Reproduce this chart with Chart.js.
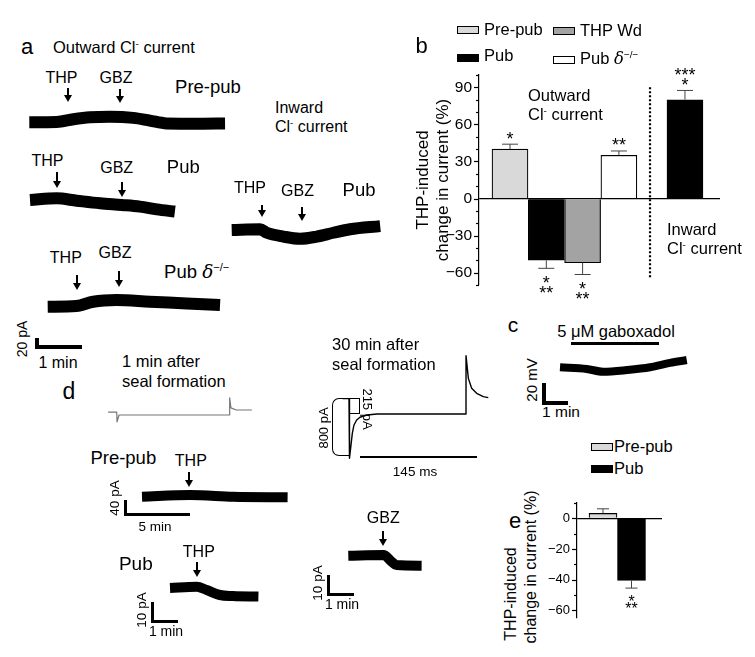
<!DOCTYPE html>
<html>
<head>
<meta charset="utf-8">
<script src="https://cdn.jsdelivr.net/npm/chart.js@4.4.1/dist/chart.umd.min.js"></script>
<style>
body{margin:0;width:755px;height:657px;background:#fff;position:relative;overflow:hidden;font-family:"Liberation Sans",Arial,sans-serif;color:#000}
.t{position:absolute;white-space:nowrap;line-height:1}
.sup{font-size:.6em;position:relative;top:-.6em}
.dl{font-family:"DejaVu Serif",serif;font-style:italic}
canvas{position:absolute}
.box{position:absolute;border:1px solid #000;box-sizing:border-box}
.sb{position:absolute;box-sizing:border-box;border-left:solid #000;border-bottom:solid #000}
</style>
</head>
<body>
<canvas id="cb" width="320" height="250" style="left:413px;top:55px"></canvas>
<canvas id="ce" width="132" height="152" style="left:540px;top:488px"></canvas>
<script>
// panel b: THP-induced change in current (%)
const bCats = ['Pre-pub', 'Pub', 'THP Wd', 'Pub δ-/-', 'Pub (inward)'];
const bVals = [40, -50, -52, 35, 80];
const bErrs = [4, 6.5, 9.5, 3.5, 7.5];
const bStars = [['*'], ['*', '**'], ['*', '**'], ['**'], ['*', '***']];

// panel e
const eCats = ['Pre-pub', 'Pub'];
const eVals = [3.2, -40.5];
const eErrs = [3, 5];
const eStars = [[], ['*', '**']];

// traces, time in min, current in pA (panel c in mV)
const aPreT = [0, 0.61, 0.98, 1.35, 1.79, 2.31, 2.68, 3.05, 3.79, 4.35];
const aPreI = [0, 0.5, 5.5, 9, 10, 8, 3, -2, -2.5, -2];
const aPubT = [0, 0.59, 1.04, 1.56, 2.04, 2.44, 2.82, 3.22];
const aPubI = [0, 3, -1.3, -6, -9, -12, -17, -21];
const aKoT = [0, 0.64, 1.01, 1.53, 2.27, 3.09, 3.83];
const aKoI = [0, 1.3, 9, 12, 9, 6, 3];
const aInT = [0, 0.63, 0.78, 1.15, 1.52, 1.89, 2.26, 2.63, 3.3];
const aInI = [0, 1.3, -5, -12, -16, -12, -5, 1.3, 7];
const cT = [0, 1.07, 1.72, 2.67, 3.6, 4.4, 5.07];
const cV = [0, -1.5, -4, -2.5, 0, 4, 6.6];
const dPreT = [0, 3.7, 7.03, 11.2];
const dPreI = [0, 4.5, 0, -1.6];
const dPubT = [0, 1.03, 1.41, 1.92, 2.42, 3.4];
const dPubI = [0, 0.6, -1, -3.5, -4, -4.3];
const dGbzT = [0, 1.35, 1.67, 1.86, 2.82];
const dGbzI = [0, 0.35, -3, -4.7, -5];
// seal tests, time in ms, current in pA
const seal1T = [-11, 0, 0.4, 3, 145, 145.4, 147, 154, 174];
const seal1I = [30, 30, -105, -10, -10, 230, 90, 60, 60];
const seal30T = [-8, 0, 0.6, 2.5, 4.1, 6.2, 9.5, 13.6, 21.9, 35, 145, 145, 147.9, 152, 158.2, 166.4, 172.6];
const seal30I = [215, 215, -620, -435, -271, -154, -84, -46, -14, 0, 0, 818, 500, 360, 290, 243, 229];

Chart.defaults.font.family = '"Liberation Sans", Arial, sans-serif';
Chart.defaults.color = '#000';
Chart.defaults.animation = false;

const minus = v => String(v).replace('-', '\u2212');

function txt(html, x, y, size, o = {}) {
  const d = document.createElement('div');
  d.className = 't';
  d.innerHTML = html;
  d.style.left = x + 'px';
  d.style.top = y + 'px';
  d.style.fontSize = size + 'px';
  let tr = o.left ? 'translate(0,-50%)' : 'translate(-50%,-50%)';
  if (o.rot) tr += ' rotate(' + o.rot + 'deg)';
  d.style.transform = tr;
  document.body.appendChild(d);
}
function div(cls, css) {
  const d = document.createElement('div');
  d.className = cls;
  d.style.cssText = 'position:absolute;' + css;
  document.body.appendChild(d);
  return d;
}
function arrow(x, y1, y2) {
  div('', `left:${x - 1}px;top:${y1}px;width:2px;height:${y2 - y1 - 6}px;background:#000`);
  div('', `left:${x - 4}px;top:${y2 - 7}px;width:0;height:0;border-left:4px solid transparent;border-right:4px solid transparent;border-top:7px solid #000`);
}
function sbar(x, yb, w, h, t) {
  div('sb', `left:${x}px;top:${yb - h}px;width:${w}px;height:${h}px;border-left-width:${t}px;border-bottom-width:${t}px`);
}
function hbar(x1, x2, y, t) {
  div('', `left:${x1}px;top:${y}px;width:${x2 - x1}px;height:${t}px;background:#000`);
}
function box(x, y, color) {
  div('box', `left:${x}px;top:${y}px;width:22px;height:8px;background:${color}`);
}

// a trace drawn through its own hidden linear scales
function trace(t, v, o) {
  const pad = Math.ceil(o.lw / 2) + 3;
  const left = Math.floor(o.x0 + Math.min(...t) * o.sx - pad);
  const right = Math.ceil(o.x0 + Math.max(...t) * o.sx + pad);
  const top = Math.floor(o.y0 - Math.max(...v) * o.sy - pad);
  const bottom = Math.ceil(o.y0 - Math.min(...v) * o.sy + pad);
  const c = document.createElement('canvas');
  c.width = right - left;
  c.height = bottom - top;
  c.style.left = left + 'px';
  c.style.top = top + 'px';
  document.body.appendChild(c);
  const ds = {
    data: t.map((x, i) => ({x: x, y: v[i]})),
    borderColor: o.color || '#000', borderWidth: o.lw, pointRadius: 0,
    borderCapStyle: 'butt', borderJoinStyle: 'round', fill: false
  };
  if (o.smooth) ds.cubicInterpolationMode = 'monotone'; else ds.tension = 0;
  new Chart(c, {
    type: 'line',
    data: {datasets: [ds]},
    options: {
      responsive: false, events: [],
      plugins: {legend: {display: false}, tooltip: {enabled: false}},
      scales: {
        x: {type: 'linear', display: false, min: (left - o.x0) / o.sx, max: (right - o.x0) / o.sx},
        y: {type: 'linear', display: false, min: (o.y0 - bottom) / o.sy, max: (o.y0 - top) / o.sy}
      }
    }
  });
}

// error bars, stars, ticks and the divider for the bar charts
const barExtras = {
  id: 'barExtras',
  afterDatasetsDraw(chart, args, o) {
    const ctx = chart.ctx, ys = chart.scales.y, xs = chart.scales.x;
    const data = chart.data.datasets[0].data;
    ctx.save();
    ctx.strokeStyle = '#000';
    ctx.lineWidth = 1.2;
    ys.ticks.forEach(t => {
      const py = Math.round(ys.getPixelForValue(t.value)) + 0.5;
      const len = t.value % o.major === 0 ? 5 : 3;
      ctx.beginPath(); ctx.moveTo(ys.right - len, py); ctx.lineTo(ys.right, py); ctx.stroke();
    });
    chart.getDatasetMeta(0).data.forEach((bar, i) => {
      const v = data[i].y, s = v >= 0 ? 1 : -1;
      const yEnd = ys.getPixelForValue(v + s * o.errs[i]);
      ctx.strokeStyle = '#444';
      ctx.lineWidth = 1;
      ctx.beginPath();
      ctx.moveTo(bar.x, bar.y); ctx.lineTo(bar.x, yEnd);
      ctx.moveTo(bar.x - o.cap / 2, yEnd); ctx.lineTo(bar.x + o.cap / 2, yEnd);
      ctx.stroke();
      ctx.fillStyle = '#000';
      ctx.font = o.starSize + 'px "Liberation Sans"';
      ctx.textAlign = 'center';
      ctx.textBaseline = 'alphabetic';
      o.stars[i].forEach((st, k) => {
        const yc = yEnd - s * (o.d0 + k * o.d1);
        ctx.fillText(st, bar.x, yc + 0.58 * o.starSize);
      });
    });
    if (o.divider !== undefined) {
      const px = xs.getPixelForValue(o.divider);
      ctx.strokeStyle = '#000';
      ctx.lineWidth = 2.2;
      ctx.setLineDash([2, 2]);
      ctx.beginPath();
      ctx.moveTo(px, ys.getPixelForValue(90));
      ctx.lineTo(px, ys.getPixelForValue(-65));
      ctx.stroke();
    }
    ctx.restore();
  }
};

function barOptions(o) {
  return {
    responsive: false, events: [],
    layout: {padding: o.pad},
    plugins: {legend: {display: false}, tooltip: {enabled: false}, barExtras: o.extras},
    scales: {
      x: {type: 'linear', display: false, offset: false, min: o.xmin, max: o.xmax},
      y: {
        min: o.ymin, max: o.ymax,
        afterFit: s => { s.width = o.axisW; },
        border: {color: '#000', width: 1.2},
        grid: {drawTicks: false, lineWidth: 1.2, color: c => c.tick && c.tick.value === 0 ? '#000' : 'rgba(0,0,0,0)'},
        ticks: {stepSize: 10, includeBounds: false, autoSkip: false, padding: 7, color: '#000', font: {size: o.tickSize},
          callback: v => v % o.major === 0 ? minus(v) : ''},
        title: o.title ? {display: true, text: o.title, padding: 0, color: '#000', font: {size: 17}} : {display: false}
      }
    }
  };
}

const bSlot = [0, 1, 2, 3, 4.82];
new Chart(document.getElementById('cb'), {
  type: 'bar',
  data: {
    labels: bCats,
    datasets: [{
      data: bVals.map((v, i) => ({x: bSlot[i], y: v})),
      backgroundColor: ['#d9d9d9', '#000', '#a3a3a3', '#fff', '#000'],
      borderColor: '#000', borderWidth: 1.2, barThickness: 36
    }]
  },
  options: barOptions({
    pad: {top: 20, bottom: 20, left: 0, right: 13}, xmin: -0.854, xmax: 5.785,
    ymin: -70, ymax: 100, axisW: 66, major: 30, tickSize: 15.5,
    title: ['THP-induced', 'change in current (%)'],
    extras: {errs: bErrs, stars: bStars, major: 30, cap: 16, starSize: 18, d0: 10, d1: 10, divider: 3.857}
  }),
  plugins: [barExtras]
});

new Chart(document.getElementById('ce'), {
  type: 'bar',
  data: {
    labels: eCats,
    datasets: [{
      data: eVals.map((v, i) => ({x: i, y: v})),
      backgroundColor: ['#d9d9d9', '#000'],
      borderColor: '#000', borderWidth: 1.2, barThickness: 28
    }]
  },
  options: barOptions({
    pad: {top: 15, bottom: 22, left: 0, right: 10}, xmin: -0.912, xmax: 2.07,
    ymin: -65, ymax: 10, axisW: 37, major: 20, tickSize: 13,
    extras: {errs: eErrs, stars: eStars, major: 20, cap: 12, starSize: 16, d0: 10, d1: 7}
  }),
  plugins: [barExtras]
});

// panel a
trace(aPreT, aPreI, {x0: 29.3, y0: 122.3, sx: 45, sy: 0.55, lw: 12, smooth: true});
trace(aPubT, aPubI, {x0: 30, y0: 200, sx: 45, sy: 0.55, lw: 12, smooth: true});
trace(aKoT, aKoI, {x0: 47.7, y0: 306.7, sx: 45, sy: 0.55, lw: 12, smooth: true});
trace(aInT, aInI, {x0: 231.7, y0: 230, sx: 45, sy: 0.55, lw: 12, smooth: true});
// panel c
trace(cT, cV, {x0: 560, y0: 367.3, sx: 25, sy: 1.1, lw: 8, smooth: true});
// panel d
trace(seal1T, seal1I, {x0: 116.7, y0: 414.3, sx: 0.777, sy: 0.0713, lw: 1.2, color: '#777'});
trace(seal30T, seal30I, {x0: 349, y0: 414, sx: 0.807, sy: 0.0713, lw: 1.4});
trace(dPreT, dPreI, {x0: 142, y0: 496.7, sx: 13, sy: 0.375, lw: 10, smooth: true});
trace(dPubT, dPubI, {x0: 170, y0: 588, sx: 26, sy: 2, lw: 10, smooth: true});
trace(dGbzT, dGbzI, {x0: 348.3, y0: 555.7, sx: 26, sy: 2, lw: 10, smooth: true});

const CL = 'Cl<span class="sup">-</span> current';
const KO = 'Pub <span class="dl">δ</span><span class="sup">−/−</span>';

// panel a text
txt('a', 27, 46.5, 22);
txt('Outward ' + CL, 53, 47, 16.5, {left: true});
txt('THP', 61.5, 77.5, 16); arrow(68, 88, 102);
txt('GBZ', 116, 77.5, 16); arrow(120, 89, 103);
txt('Pre-pub', 208, 87, 18.5);
txt('Inward', 275, 108, 16, {left: true});
txt(CL, 275, 127, 16, {left: true});
txt('THP', 47.5, 161, 16); arrow(57, 172, 188);
txt('GBZ', 116.7, 167.5, 16); arrow(122, 182, 197);
txt('Pub', 183.3, 166.5, 18.5);
txt('THP', 250, 188, 16); arrow(262, 205, 217);
txt('GBZ', 297.5, 191, 16); arrow(302, 207, 221);
txt('Pub', 359, 190, 18.5);
txt('THP', 65.8, 258, 16); arrow(77, 275, 290);
txt('GBZ', 115, 253, 16); arrow(119, 271, 287);
txt(KO, 196.7, 271.5, 18.5);
txt('20 pA', 22, 339, 14, {rot: -90});
sbar(35, 349, 47, 11, 4);
txt('1 min', 58, 363, 16);

// panel b text
txt('b', 421.5, 46, 22);
box(457, 25.5, '#d9d9d9'); txt('Pre-pub', 484, 28.5, 16.5, {left: true});
box(553, 26.5, '#a3a3a3'); txt('THP Wd', 580, 29.5, 16.5, {left: true});
box(457, 53.5, '#000'); txt('Pub', 484, 55, 16.5, {left: true});
box(553, 56, '#fff'); txt(KO, 580, 59, 16.5, {left: true});
txt('Outward', 528, 95, 16.5, {left: true});
txt(CL, 528, 114, 16.5, {left: true});
txt('Inward', 667, 229, 16.5, {left: true});
txt(CL, 667, 248, 16.5, {left: true});

// panel c text
txt('c', 513, 323.5, 21);
txt('5 μM gaboxadol', 616, 330.5, 16.5);
hbar(571, 659, 342, 2.5);
txt('20 mV', 531, 380, 15, {rot: -90});
sbar(542, 405, 26, 22, 4);
txt('1 min', 561, 412, 15.5);

// panel d text
txt('d', 69, 391, 23);
txt('1 min after', 122, 361, 16.5, {left: true});
txt('seal formation', 122, 381, 16.5, {left: true});
txt('30 min after', 332, 344, 16.5, {left: true});
txt('seal formation', 332, 364, 16.5, {left: true});
div('', 'left:332px;top:398px;width:17px;height:58px;box-sizing:border-box;border:1.3px solid #000;border-right:none;border-radius:7px 0 0 7px');
div('', 'left:349px;top:398px;width:11px;height:16px;box-sizing:border-box;border:1.3px solid #000;border-left:none');
txt('800 pA', 323, 428, 13, {rot: -90});
txt('215 pA', 367, 408.5, 13, {rot: 90});
hbar(360, 477, 455.5, 2);
txt('145 ms', 415, 471.7, 13.5);
txt('Pre-pub', 123.3, 458, 18.5);
txt('THP', 190.8, 460.5, 16); arrow(189, 472, 487);
sbar(124, 516, 66, 16, 3);
txt('40 pA', 115, 497.5, 13.5, {rot: -90});
txt('5 min', 155, 527, 13.5);
txt('Pub', 135.8, 562.5, 19);
txt('THP', 198.8, 551.7, 16); arrow(197, 562, 577);
sbar(151, 623, 27, 21, 3);
txt('10 pA', 142, 610, 13.5, {rot: -90});
txt('1 min', 166, 631, 14);
txt('GBZ', 383.3, 518.3, 16); arrow(383, 531, 546);
sbar(327, 596, 27, 21, 3);
txt('10 pA', 318, 583, 13.5, {rot: -90});
txt('1 min', 342, 604, 14);

// panel e text
txt('e', 515, 521, 22);
box(591, 442.5, '#d9d9d9'); txt('Pre-pub', 614, 445.5, 16.5, {left: true});
box(591, 465, '#000'); txt('Pub', 614, 468, 16.5, {left: true});
txt('THP-induced', 511, 593.5, 16, {rot: -90});
txt('change in current (%)', 531, 566.5, 16, {rot: -90});
</script>
</body>
</html>
